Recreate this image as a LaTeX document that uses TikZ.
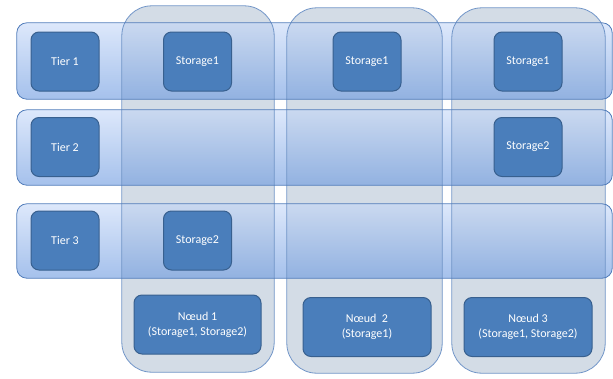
\documentclass[tikz,border=0pt]{standalone}
\usepackage{fontspec}
\setmainfont{Carlito}
\definecolor{boxfill}{HTML}{4A7EBB}
\definecolor{boxline}{HTML}{38608F}
\definecolor{colfill}{HTML}{D3DCE6}
\definecolor{colline}{HTML}{6E93C6}
\definecolor{rowline}{HTML}{4F7BBA}
\definecolor{rowtop}{HTML}{C4D7F8}
\definecolor{rowbot}{HTML}{6494DE}
\begin{document}
\begin{tikzpicture}[x=1pt,y=-1pt,
  colbox/.style={draw=none,fill=colfill,rounded corners=30pt,inner sep=0pt},
  rowbox/.style={draw=none,rounded corners=10pt,inner sep=0pt,top color=rowtop,bottom color=rowbot,fill opacity=0.58},
  itembox/.style={draw=boxline,line width=1pt,fill=boxfill,rounded corners=8pt,text=white,
    font=\fontsize{12}{15}\selectfont,align=center,inner sep=0pt,minimum height=59pt},
  colborder/.style={draw=colline,line width=0.8pt,rounded corners=30pt},
  rowborder/.style={draw=rowline,line width=0.8pt,rounded corners=10pt}]
\useasboundingbox (0,0) rectangle (613,378);
% node columns
\node[colbox,minimum width=152pt,minimum height=366pt] (c1) at (198,189) {};
\node[colbox,minimum width=155pt,minimum height=365pt] (c2) at (364.5,190.5) {};
\node[colbox,minimum width=153pt,minimum height=365pt] (c3) at (528.5,190.5) {};
% tier rows
\node[rowbox,minimum width=595pt,minimum height=76pt] (r1) at (314.5,61) {};
\node[rowbox,minimum width=595pt,minimum height=75pt] (r2) at (314.5,147.5) {};
\node[rowbox,minimum width=595pt,minimum height=74pt] (r3) at (314.5,241) {};
% borders
\foreach \c in {c1,c2,c3}
  \draw[colborder] (\c.north west) rectangle (\c.south east);
\foreach \r in {r1,r2,r3}
  \draw[rowborder] (\r.north west) rectangle (\r.south east);
% items
\node[itembox,minimum width=68pt] (t1) at (65,61.5) {Tier 1};
\node[itembox,minimum width=68pt] (t2) at (65,147) {Tier 2};
\node[itembox,minimum width=68pt] (t3) at (65,240.5) {Tier 3};
\node[itembox,minimum width=68pt] (s11) at (197.5,61.5) {Storage1};
\node[itembox,minimum width=68pt] (s21) at (367,61.5) {Storage1};
\node[itembox,minimum width=68pt] (s31) at (528,61.5) {Storage1};
\node[itembox,minimum width=68pt] (s32) at (528,147) {Storage2};
\node[itembox,minimum width=68pt] (s13) at (197.5,240.5) {Storage2};
\node[itembox,minimum width=127pt] (n1) at (197.5,324.5) {Nœud 1\\(Storage1, Storage2)};
\node[itembox,minimum width=128pt] (n2) at (367,327) {Nœud\ \ 2\\(Storage1)};
\node[itembox,minimum width=128pt] (n3) at (528,327) {Nœud 3\\(Storage1, Storage2)};
\end{tikzpicture}
\end{document}
